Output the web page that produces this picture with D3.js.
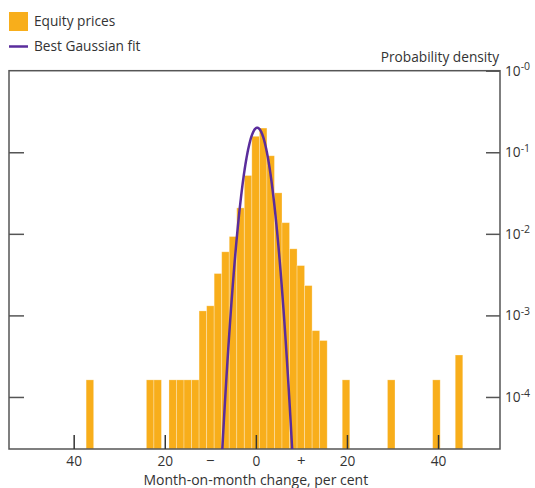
<!DOCTYPE html>
<html>
<head>
<meta charset="utf-8">
<script src="https://cdn.jsdelivr.net/npm/d3@7"></script>
<style>
  html, body { margin: 0; padding: 0; background: #fff; }
  svg { display: block; }
  text { font-family: "Open Sans", "Noto Sans", sans-serif; fill: #333; }
</style>
</head>
<body>
<svg id="chart" width="535" height="488"></svg>
<script>
// ---- Data ----
// Histogram bins: centre of each bin (month-on-month % change) and probability density
const binCenters = [-36.44, -23.21, -21.56, -18.25, -16.60, -14.95, -13.29,
  -11.64, -9.98, -8.33, -6.67, -5.02, -3.37, -1.71, -0.06, 1.60, 3.25, 4.91,
  6.56, 8.22, 9.87, 11.52, 13.18, 14.83, 19.79, 29.72, 39.64, 44.60];
const densities = [1.62e-4, 1.62e-4, 1.62e-4, 1.62e-4, 1.62e-4, 1.62e-4, 1.62e-4,
  1.135e-3, 1.31e-3, 3.26e-3, 6.02e-3, 9.27e-3, 0.0208, 0.0519, 0.157, 0.198,
  0.0906, 0.0318, 0.0137, 0.00655, 0.00408, 0.00232, 6.5e-4, 4.92e-4,
  1.62e-4, 1.62e-4, 1.62e-4, 3.27e-4];
const binWidth = 1.654;

// Best Gaussian fit parameters
const fitMean = 0.3;
const fitSigma = 1.8;
const fitPeak = 0.2;

// Axes
const xTickValues = [-40, -20, 0, 20, 40];
const xTickLabels = ["40", "20", "0", "20", "40"];
const xSignValues = [-10, 10];
const xSignLabels = ["\u2212", "+"];
const yTickValues = [1, 0.1, 0.01, 0.001, 0.0001];
const yTickExponents = ["-0", "-1", "-2", "-3", "-4"];
const legendLabels = ["Equity prices", "Best Gaussian fit"];

// ---- Layout ----
const pL = 9, pR = 500, pT = 70.7, pB = 449;
const barColor = "#f8ae1b";
const lineColor = "#5a2d9c";
const frameColor = "#555";
const fs = 13.7;

const svg = d3.select("#chart");

const x = d3.scaleLinear().domain([-54.2, 53.6]).range([pL, pR]);
const y = d3.scaleLog().domain([Math.pow(10, -4.638), 1]).range([pB, pT]);

const data = binCenters.map((c, i) => ({c, d: densities[i]}));

// Bars
svg.append("g").selectAll("rect").data(data).join("rect")
  .attr("x", d => x(d.c - binWidth / 2))
  .attr("width", d => x(d.c + binWidth / 2) - x(d.c - binWidth / 2))
  .attr("y", d => y(d.d))
  .attr("height", d => pB - y(d.d))
  .attr("fill", barColor)
  .attr("stroke", "rgba(255,255,255,0.35)")
  .attr("stroke-width", 0.8);

// Frame
svg.append("rect")
  .attr("x", pL).attr("y", pT)
  .attr("width", pR - pL).attr("height", pB - pT)
  .attr("fill", "none").attr("stroke", frameColor).attr("stroke-width", 1.5);

// Bottom axis (ticks inside, pointing up)
const xAxis = d3.axisBottom(x).tickValues(xTickValues)
  .tickSizeInner(-14).tickSizeOuter(0).tickPadding(22)
  .tickFormat((d, i) => xTickLabels[i]);
const gx = svg.append("g").attr("transform", `translate(0,${pB})`).call(xAxis);
gx.select(".domain").remove();
gx.selectAll(".tick line").attr("stroke", "#333").attr("stroke-width", 1.5);
gx.selectAll(".tick text").attr("font-size", fs).attr("fill", "#333")
  .attr("font-family", "'Open Sans', sans-serif").attr("y", 7).attr("dy", "0.71em");

// Sign labels
svg.append("g").selectAll("text").data(xSignValues).join("text")
  .attr("x", d => x(d)).attr("y", 466)
  .attr("text-anchor", "middle").attr("font-size", 15)
  .text((d, i) => xSignLabels[i]);

// x title
svg.append("text").attr("x", x(0)).attr("y", 485)
  .attr("text-anchor", "middle").attr("font-size", 14)
  .text("Month-on-month change, per cent");

// Left ticks (no labels)
const gl = svg.append("g").attr("transform", `translate(${pL},0)`)
  .call(d3.axisLeft(y).tickValues(yTickValues.slice(1)).tickSizeInner(-15).tickSizeOuter(0).tickFormat(""));
gl.select(".domain").remove();
gl.selectAll(".tick line").attr("stroke", frameColor).attr("stroke-width", 1.5);

// Right axis with labels
const gr = svg.append("g").attr("transform", `translate(${pR},0)`)
  .call(d3.axisRight(y).tickValues(yTickValues).tickSizeInner(-14).tickSizeOuter(0).tickPadding(5)
    .tickFormat(""));
gr.select(".domain").remove();
gr.selectAll(".tick line").attr("stroke", frameColor).attr("stroke-width", 1.5);
gr.selectAll(".tick text").each(function(d, i) {
  const t = d3.select(this).attr("font-size", fs).attr("fill", "#333")
    .attr("font-family", "'Open Sans', sans-serif").attr("dy", "0.32em");
  t.append("tspan").text("10");
  t.append("tspan").attr("dy", "-0.5em").attr("font-size", 10.5).text(yTickExponents[i]);
});

// y title
svg.append("text").attr("x", 499).attr("y", 62)
  .attr("text-anchor", "end").attr("font-size", fs)
  .text("Probability density");

// Gaussian fit curve
svg.append("clipPath").attr("id", "plotclip")
  .append("rect").attr("x", pL).attr("y", pT - 5).attr("width", pR - pL).attr("height", pB - pT + 5);
const gaussX = d3.range(fitMean - 4.5 * fitSigma, fitMean + 4.5 * fitSigma + 0.001, 0.05);
const gauss = gaussX.map(v => [v, fitPeak * Math.exp(-((v - fitMean) ** 2) / (2 * fitSigma * fitSigma))]);
svg.append("path").datum(gauss)
  .attr("clip-path", "url(#plotclip)")
  .attr("d", d3.line().x(d => x(d[0])).y(d => y(d[1])))
  .attr("fill", "none").attr("stroke", lineColor).attr("stroke-width", 2.5);

// Legend
svg.append("rect").attr("x", 9).attr("y", 12).attr("width", 19).attr("height", 19).attr("fill", barColor);
svg.append("line").attr("x1", 9).attr("x2", 28).attr("y1", 46.5).attr("y2", 46.5)
  .attr("stroke", lineColor).attr("stroke-width", 2.5);
svg.append("text").attr("x", 34).attr("y", 26).attr("font-size", fs).text(legendLabels[0]);
svg.append("text").attr("x", 34).attr("y", 51).attr("font-size", fs).text(legendLabels[1]);
</script>
</body>
</html>
